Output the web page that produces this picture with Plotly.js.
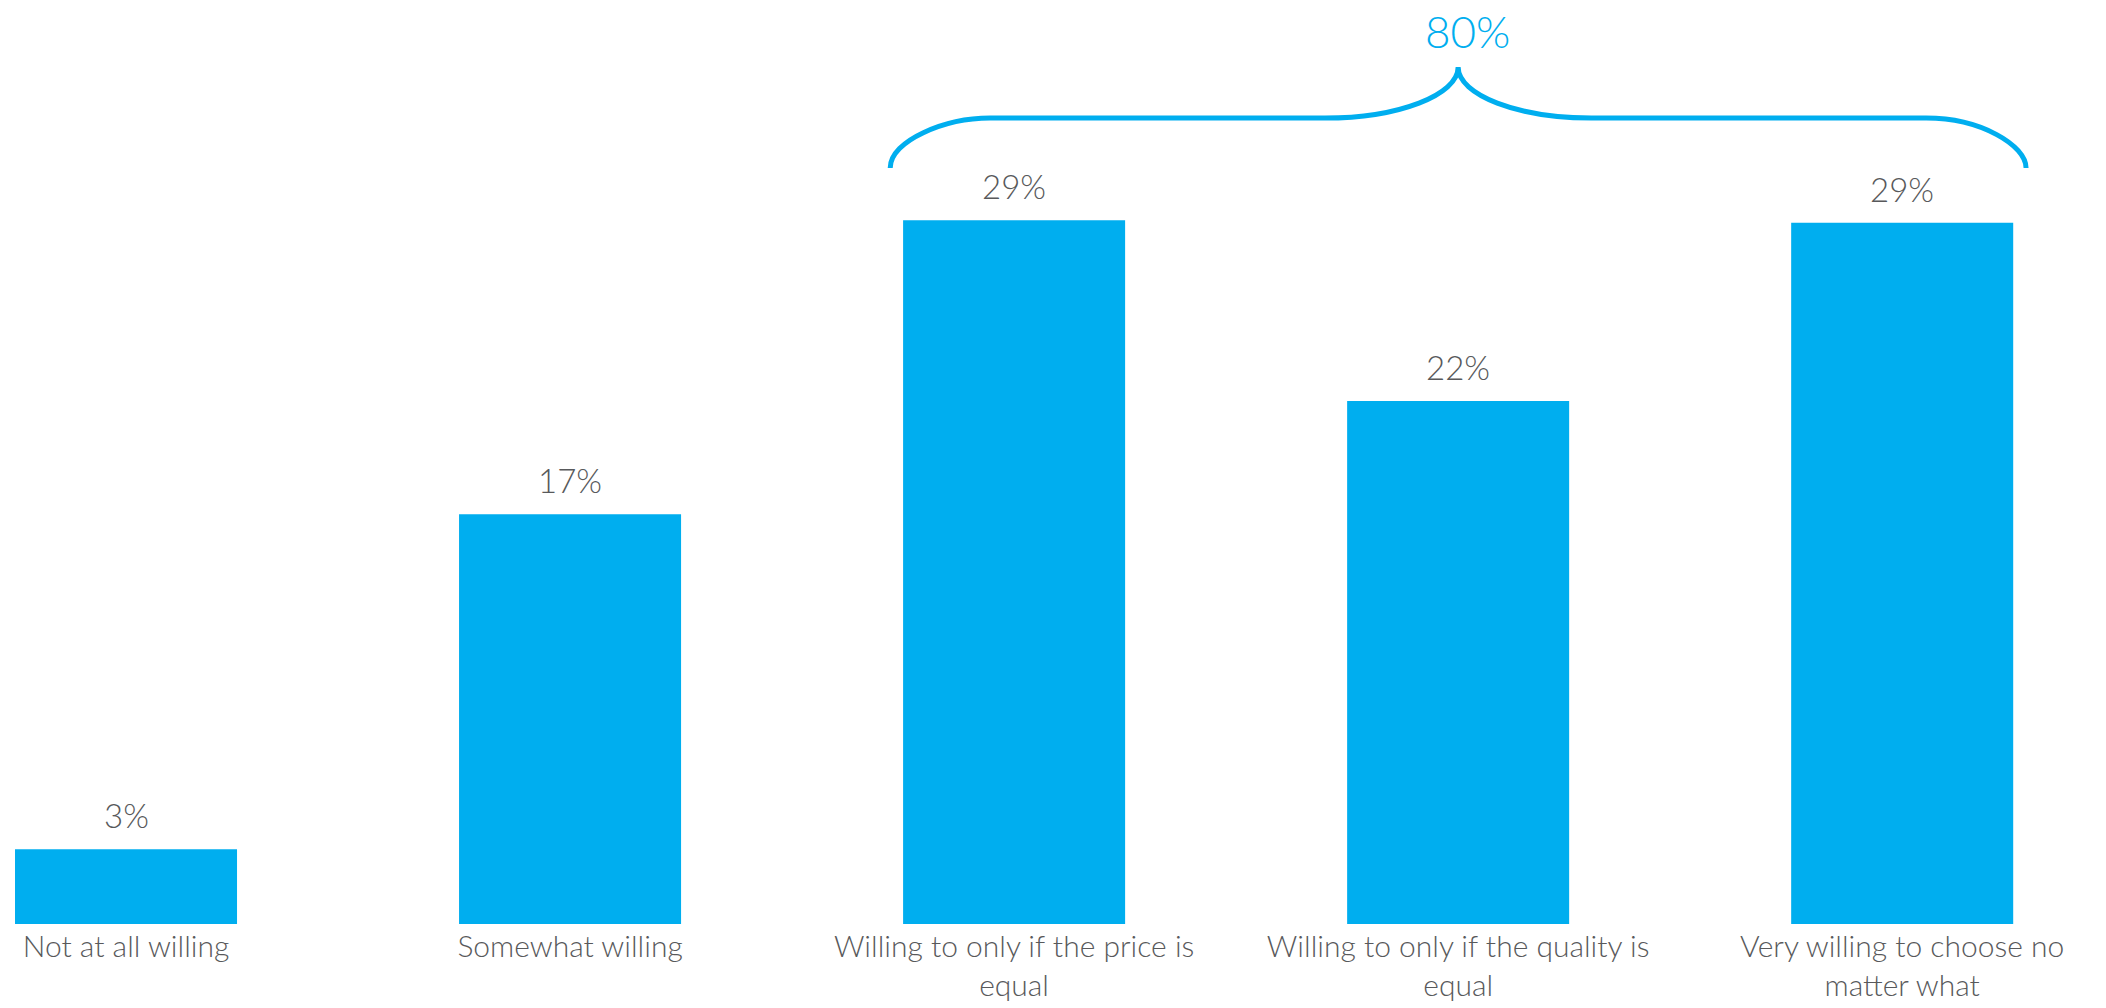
<!DOCTYPE html>
<html>
<head>
<meta charset="utf-8">
<script src="https://cdn.plot.ly/plotly-3.0.1.min.js"></script>
<style>
  html, body { margin: 0; padding: 0; background: #ffffff; }
  #chart { width: 2106px; height: 1008px; }
</style>
</head>
<body>
<div id="chart"></div>
<script>
// ---- Data ----
var categories = [
  "Not at all willing",
  "Somewhat willing",
  "Willing to only if the price is<br>equal",
  "Willing to only if the quality is<br>equal",
  "Very willing to choose no<br>matter what"
];
var values = [3.1, 17.0, 29.2, 21.7, 29.1];
var bracketLabel = "80%";
var bracketFrom = 2;   // index of first bracketed category
var bracketTo = 4;     // index of last bracketed category

// ---- Styles ----
var BLUE = "#00AEEF";
var GREY = "#58595B";
var FONT = "Lato, 'Open Sans', 'DejaVu Sans', sans-serif";

var trace = {
  type: "bar",
  x: categories,
  y: values,
  marker: { color: BLUE },
  hoverinfo: "skip",
  showlegend: false
};

// value labels above the bars
var annotations = categories.map(function (c, i) {
  return {
    x: c, y: values[i], xref: "x", yref: "y",
    text: Math.round(values[i]) + "%",
    showarrow: false, yanchor: "bottom", yshift: 12,
    font: { family: FONT, size: 33, color: GREY, weight: 300 }
  };
});

// curly bracket over the last three bars
var L = bracketFrom - 0.279, R = bracketTo + 0.279;
var M = (bracketFrom + bracketTo) / 2;
var yEnd = 31.37, yLine = 33.44, yTip = 35.56;
var cw = 0.225, mw = 0.3, k = 0.55;
function p(x, y) { return x.toFixed(4) + "," + y.toFixed(4); }
var path =
  "M" + p(L, yEnd) +
  " C" + p(L, yEnd + k * (yLine - yEnd)) + " " + p(L + k * cw, yLine) + " " + p(L + cw, yLine) +
  " L" + p(M - mw, yLine) +
  " C" + p(M - mw + k * mw, yLine) + " " + p(M, yTip - k * (yTip - yLine)) + " " + p(M, yTip) +
  " C" + p(M, yTip - k * (yTip - yLine)) + " " + p(M + mw - k * mw, yLine) + " " + p(M + mw, yLine) +
  " L" + p(R - cw, yLine) +
  " C" + p(R - cw + k * cw, yLine) + " " + p(R, yLine - k * (yLine - yEnd)) + " " + p(R, yEnd);

annotations.push({
  x: M + 0.02, y: yTip, xref: "x", yref: "y",
  text: bracketLabel, showarrow: false, yanchor: "bottom", yshift: 8,
  font: { family: FONT, size: 44, color: BLUE, weight: 300 }
});

var layout = {
  width: 2106,
  height: 1008,
  margin: { l: 0, r: 0, t: 0, b: 84, pad: 0 },
  paper_bgcolor: "#ffffff",
  plot_bgcolor: "#ffffff",
  bargap: 0.5,
  xaxis: {
    type: "category",
    range: [-0.2838, 4.459],
    showgrid: false, zeroline: false, showline: false,
    ticks: "",
    ticklabelstandoff: 2,
    tickfont: { family: FONT, size: 30, color: GREY, weight: 300 },
    fixedrange: true
  },
  yaxis: {
    range: [0, 38.34],
    visible: false,
    showgrid: false, zeroline: false,
    fixedrange: true
  },
  shapes: [{
    type: "path", xref: "x", yref: "y", path: path,
    line: { color: BLUE, width: 5 }, layer: "above"
  }],
  annotations: annotations
};

Plotly.newPlot("chart", [trace], layout, { displayModeBar: false, staticPlot: true });
</script>
</body>
</html>
